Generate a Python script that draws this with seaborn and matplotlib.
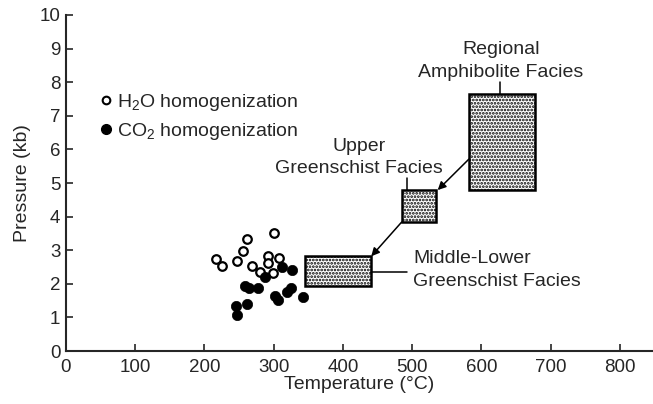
import matplotlib
matplotlib.use("Agg")
import matplotlib.pyplot as plt
import seaborn as sns
import pandas as pd
from matplotlib.patches import Rectangle
from matplotlib.lines import Line2D

# ---- data ----
h2o_temp = [217, 226, 247, 256, 262, 269, 301, 292, 292, 281, 299, 308]
h2o_pres = [2.74, 2.54, 2.68, 2.98, 3.32, 2.54, 3.50, 2.83, 2.61, 2.36, 2.33, 2.76]
co2_temp = [288, 259, 265, 278, 246, 261, 247, 312, 327, 302, 306, 320, 325, 342]
co2_pres = [2.21, 1.93, 1.87, 1.87, 1.35, 1.39, 1.07, 2.51, 2.41, 1.65, 1.52, 1.77, 1.87, 1.60]

facies_names = ["Middle-Lower\nGreenschist Facies", "Upper\nGreenschist Facies",
                "Regional\nAmphibolite Facies"]
facies_tmin = [345, 485, 582]
facies_tmax = [440, 535, 677]
facies_pmin = [1.95, 3.84, 4.80]
facies_pmax = [2.82, 4.79, 7.65]

x_ticks = [0, 100, 200, 300, 400, 500, 600, 700, 800]
y_ticks = list(range(0, 11))

# ---- style ----
sns.set_style("ticks")
plt.rcParams["font.family"] = ["Liberation Sans", "DejaVu Sans"]
plt.rcParams["mathtext.fontset"] = "custom"
plt.rcParams["mathtext.rm"] = "Liberation Sans"
plt.rcParams["mathtext.it"] = "Liberation Sans:italic"
plt.rcParams["hatch.linewidth"] = 1.3

fig = plt.figure(figsize=(6.53, 4.04), dpi=100)
ax = fig.add_axes([0.101, 0.131, 0.899, 0.832])

df_h = pd.DataFrame({"T": h2o_temp, "P": h2o_pres})
df_c = pd.DataFrame({"T": co2_temp, "P": co2_pres})
sns.scatterplot(data=df_h, x="T", y="P", ax=ax, marker="o", s=38,
                facecolor="white", edgecolor="black", linewidth=1.6, zorder=3)
sns.scatterplot(data=df_c, x="T", y="P", ax=ax, marker="o", s=55,
                color="black", edgecolor="black", linewidth=0.5, zorder=4)

# facies boxes
for t0, t1, p0, p1 in zip(facies_tmin, facies_tmax, facies_pmin, facies_pmax):
    ax.add_patch(Rectangle((t0, p0), t1 - t0, p1 - p0, facecolor="white",
                           edgecolor="black", hatch=".....", linewidth=1.8, zorder=2))

# arrows between boxes
ax.annotate("", xy=(facies_tmax[1] + 2, facies_pmax[1]),
            xytext=(facies_tmin[2], 5.71),
            arrowprops=dict(arrowstyle="-|>", color="black", lw=1.1,
                            shrinkA=0, shrinkB=0, mutation_scale=12))
ax.annotate("", xy=(facies_tmax[0] + 1, facies_pmax[0]),
            xytext=(facies_tmin[1], facies_pmin[1]),
            arrowprops=dict(arrowstyle="-|>", color="black", lw=1.1,
                            shrinkA=0, shrinkB=0, mutation_scale=12))

fs = 14
ls = 1.45
# labels with leader lines
ax.text(628, 8.62, facies_names[2], ha="center", va="center", fontsize=fs,
        linespacing=ls)
ax.plot([627, 627], [facies_pmax[2], 8.0], color="black", lw=1.1)
ax.text(423, 5.76, facies_names[1], ha="center", va="center", fontsize=fs,
        linespacing=ls)
ax.plot([492, 492], [facies_pmax[1], 5.15], color="black", lw=1.1)
ax.text(502, 2.40, facies_names[0], ha="left", va="center", fontsize=fs,
        linespacing=ls)
ax.plot([facies_tmax[0], 492], [2.36, 2.36], color="black", lw=1.1)

# legend
handles = [Line2D([], [], marker="o", linestyle="none", markersize=5.5,
                  markerfacecolor="white", markeredgecolor="black", markeredgewidth=1.5),
           Line2D([], [], marker="o", linestyle="none", markersize=7,
                  markerfacecolor="black", markeredgecolor="black")]
ax.legend(handles, ["H$_2$O homogenization", "CO$_2$ homogenization"],
          loc="upper left", bbox_to_anchor=(0.035, 0.80), frameon=False,
          fontsize=fs, handletextpad=0.05, handlelength=1.0, labelspacing=0.4,
          borderpad=0)

ax.set_xlim(0, 848)
ax.set_ylim(0, 10)
ax.set_xticks(x_ticks)
ax.set_yticks(y_ticks)
ax.tick_params(direction="in", length=5, width=1.2, labelsize=13.5, pad=4)
ax.tick_params(axis="x", pad=6)
ax.set_xlabel("Temperature (°C)", fontsize=fs, labelpad=0)
ax.set_ylabel("Pressure (kb)", fontsize=fs, labelpad=6)
for s in ["top", "right"]:
    ax.spines[s].set_visible(False)
for s in ["left", "bottom"]:
    ax.spines[s].set_linewidth(1.5)

fig.savefig("out.png", dpi=100)
